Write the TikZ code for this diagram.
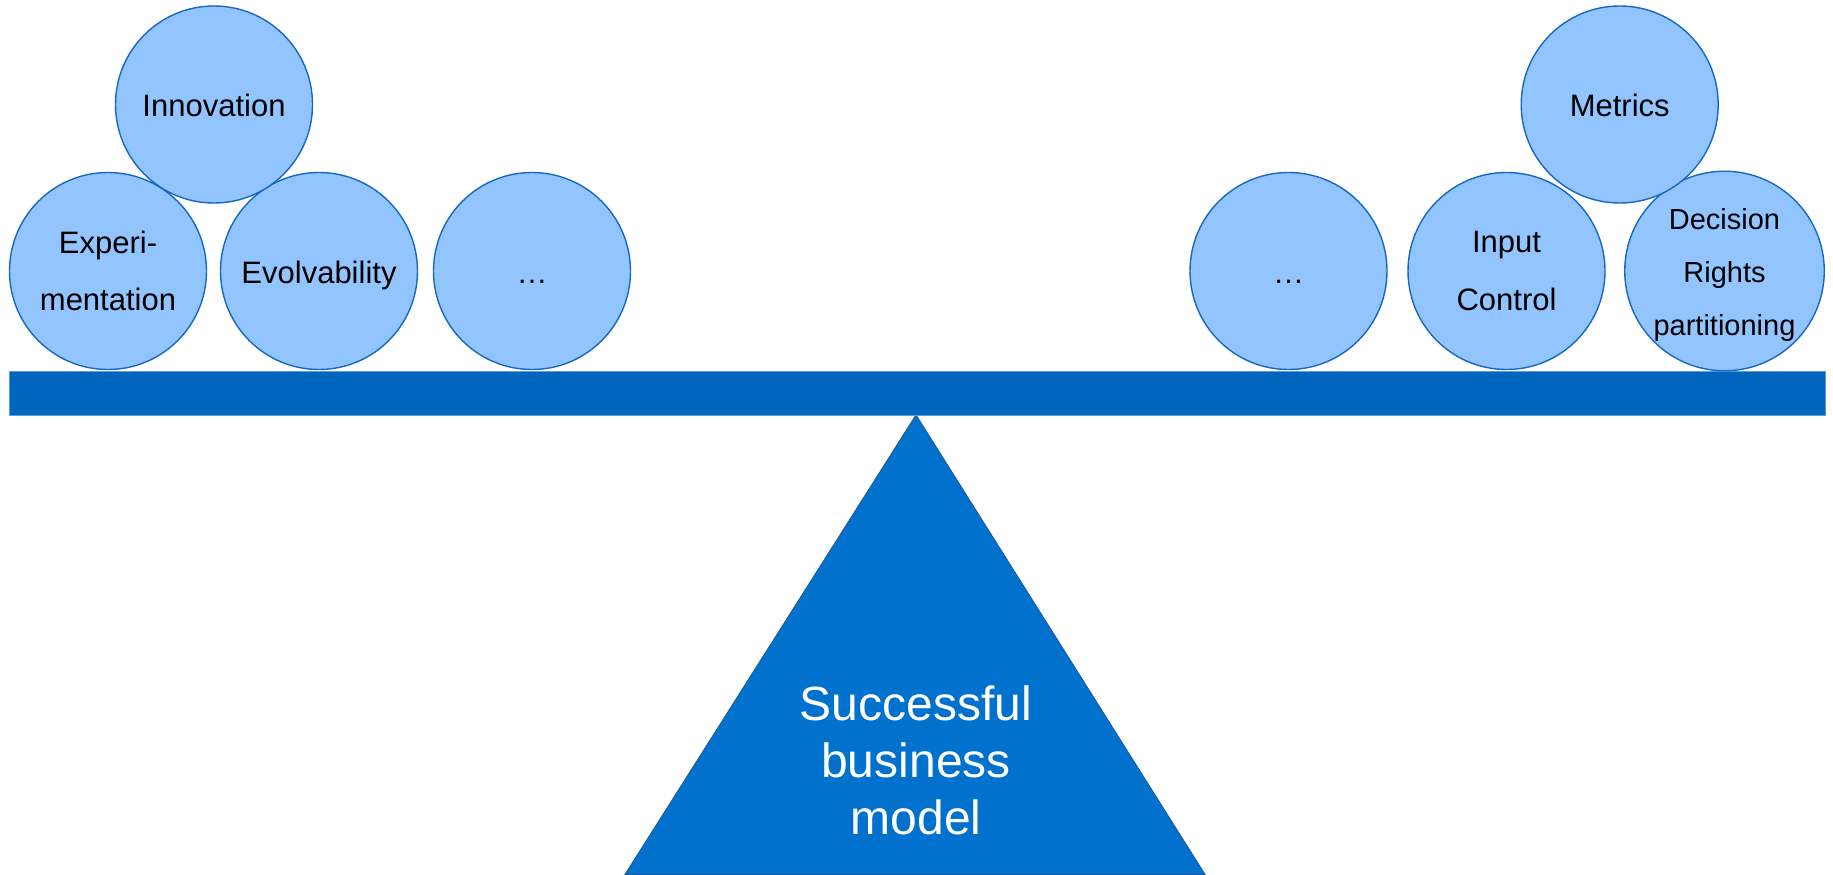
\documentclass[tikz,border=0pt]{standalone}
\usepackage{fontspec}
\setmainfont{Liberation Sans}
\definecolor{ballfill}{RGB}{146,197,255}
\definecolor{ballline}{RGB}{22,104,192}
\definecolor{barfill}{RGB}{0,102,189}
\definecolor{barline}{RGB}{95,155,220}
\definecolor{trifill}{RGB}{0,114,206}
\definecolor{triline}{RGB}{28,92,160}
\begin{document}
\begin{tikzpicture}[x=1pt,y=-1pt,
  ball/.style={circle, draw=ballline, fill=ballfill, line width=1.4pt,
    minimum size=197pt, inner sep=0pt, align=center, text=black,
    font=\fontsize{31}{57.5}\selectfont},
  oneline/.style={text height=24pt, text depth=0pt},
  smallball/.style={font=\fontsize{29}{53}\selectfont},
  base/.style={text=white, align=center, font=\fontsize{48}{57}\selectfont}]
\useasboundingbox (0,0) rectangle (1833,875);
\fill[white] (0,0) rectangle (1833,875);
% fulcrum
\coordinate (apex) at (916,415);
\coordinate (bl) at (625,874.5);
\coordinate (br) at (1205,874.5);
\draw[fill=trifill, draw=triline, line width=1pt] (bl) -- (apex) -- (br) -- cycle;
\node[base] (model) at (916,760) {Successful\\business\\model};
% beam
\coordinate (beamA) at (9,371);
\coordinate (beamB) at (1825,415);
\draw[fill=barfill, draw=barline, line width=0.8pt] (beamA) rectangle (beamB);
% left side
\node[ball] (exp) at (108,271) {Experi-\\mentation};
\node[ball, oneline] (evol) at (319,271) {Evolvability};
\node[ball, oneline] (ldots) at (532,271) {\dots};
\node[ball, oneline] (innov) at (214,104.5) {Innovation};
% right side
\node[ball, oneline] (rdots) at (1288.5,271) {\dots};
\node[ball] (input) at (1506.5,271) {Input\\Control};
\node[ball, smallball] (dec) at (1724.5,271) {\rule{0pt}{29pt}Decision\\Rights\\partitioning};
\node[ball, oneline] (metrics) at (1619.7,104.5) {Metrics};
\end{tikzpicture}
\end{document}
